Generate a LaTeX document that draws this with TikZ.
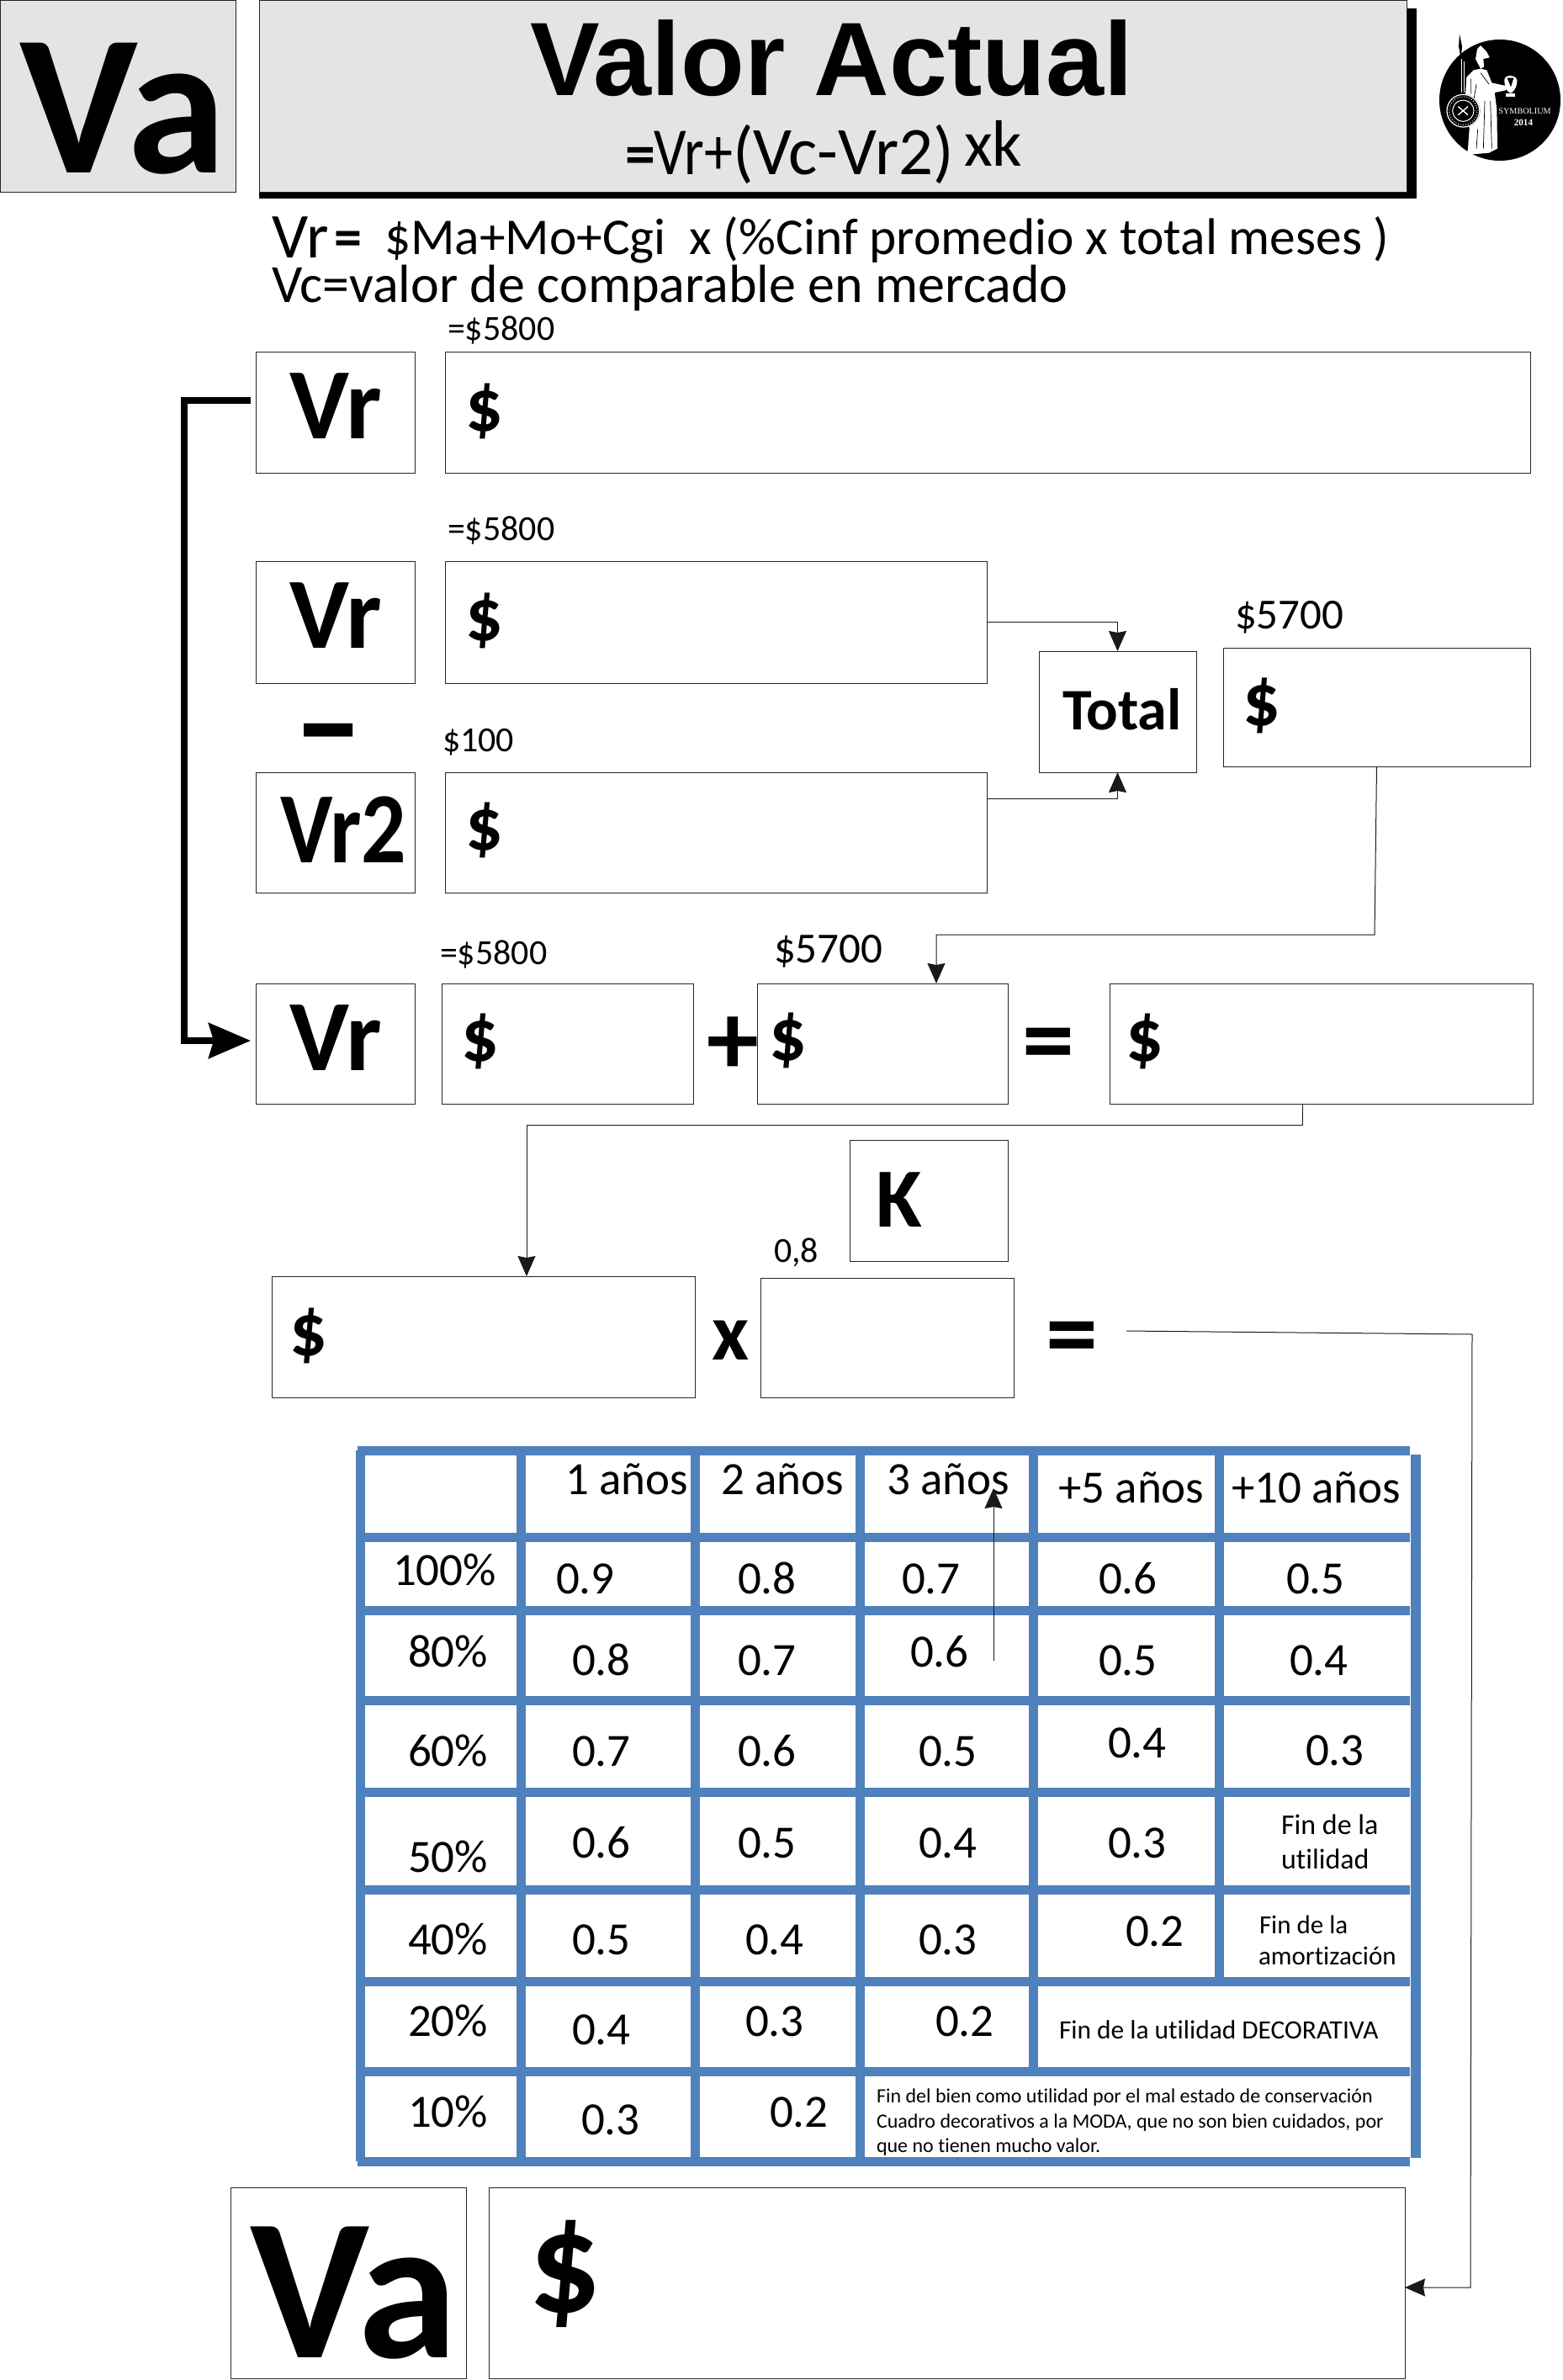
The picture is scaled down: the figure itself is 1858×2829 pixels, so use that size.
\documentclass[tikz,border=0pt]{standalone}
\usepackage{fontspec}
\setmainfont[Ligatures=NoCommon]{Carlito}
\newfontfamily\arialf{Liberation Sans}
\newfontfamily\timesf{Liberation Serif}
\usetikzlibrary{arrows.meta}
\newcounter{tc}
% text: size(pt) x baseline {text}
\newcommand\T[4]{\stepcounter{tc}\node[txt,font=\fontsize{#1}{#1}\selectfont] (t\arabic{tc}) at (#2,#3) {#4};}
\newcommand\TB[4]{\stepcounter{tc}\node[txt,font=\fontsize{#1}{#1}\selectfont\bfseries] (t\arabic{tc}) at (#2,#3) {#4};}
% box: name x1 y1 x2 y2
\newcommand\B[6][boxs]{\node[#1,minimum width=\fpeval{(#4-#2)/2}pt,minimum height=\fpeval{(#5-#3)/2}pt] (#6) at (#2,#3) {};}
\tikzset{
 txt/.style={anchor=base west,inner sep=0pt,outer sep=0pt,text=black},
 boxs/.style={draw=black!85,line width=0.45pt,fill=white,anchor=north west,inner sep=0pt,outer sep=0pt},
 grayb/.style={boxs,fill=headgray},
 tline/.style={draw=tblue,line width=5.5pt},
 conn/.style={draw=black!90,line width=0.5pt,-{Stealth[length=12pt,width=10.5pt,inset=1pt]}},
 thick conn/.style={draw=black,line width=3.6pt,-{Stealth[length=25pt,width=21pt,inset=3pt]}}
}
\definecolor{headgray}{HTML}{E4E4E4}
\definecolor{tblue}{HTML}{4F81BD}
\begin{document}
\begin{tikzpicture}[x=0.5pt,y=-0.5pt]
\useasboundingbox (0,0) rectangle (1858,2829);
\fill[white] (0,0) rectangle (1858,2829);
% header
\node[grayb,minimum width=140pt,minimum height=114pt] (vahead) at (0,0) {};
\fill[black] (308,10) rectangle (1684,236);
\node[grayb,minimum width=682pt,minimum height=114pt] (title) at (308,0) {};
\TB{119}{24}{205}{Va}
\stepcounter{tc}\node[txt,font=\arialf\fontsize{62}{62}\selectfont\bfseries] (titletext) at (630,113) {Valor Actual};
\TB{36}{743}{207}{=}
\T{40}{777}{207}{\scalebox{0.85}[1]{Vr+}}
\T{40.5}{871}{207}{(Vc-Vr2)}
\T{39}{1146}{197}{xk}
% logo
\fill[black] (1783,119) circle (36pt);
\begin{scope}[shift={(1680,20)},x=0.1667pt,y=-0.1667pt]
 \fill[black] (165,62)--(174,105)--(170,150)--(162,105)--cycle;
 \draw[white,line width=0.7pt] (172,150)--(172,270);
 \draw[white,line width=0.5pt] (180,160)--(180,270);
 \fill[white] (222,150)--(228,115)--(240,102)--(262,125)--(272,145)--(250,150)--(252,178)--(240,185)--cycle;
 \fill[white] (240,185)--(215,190)--(190,215)--(185,290)--(200,400)--(195,470)--(190,492)--(270,485)--(300,470)--(298,330)--(290,270)--(330,262)--(338,248)--(280,235)--(262,190)--cycle;
 \draw[black,line width=0.35pt] (225,240)--(215,300) (255,300)--(250,470) (275,300)--(280,470) (230,400)--(225,470) (205,220)--(205,275) (240,200)--(270,240);
 \fill[white] (325,225) .. controls (325,205) and (365,205) .. (370,225) .. controls (372,250) and (355,270) .. (348,272) .. controls (335,270) and (325,250) .. (325,225) -- cycle;
 \fill[black] (335,218) -- (358,218) -- (348,250) -- cycle;
 \fill[white] (330,272) rectangle (362,284);
 \fill[black] (178,335) circle (60*0.1667pt);
 \draw[white,line width=0.6pt] (178,335) circle (58*0.1667pt);
 \draw[white,line width=0.5pt,densely dotted] (178,335) circle (50*0.1667pt);
 \draw[white,line width=0.5pt] (178,335) circle (38*0.1667pt);
 \draw[white,line width=0.7pt] (160,350)--(195,320) (160,320)--(195,350);
 \node[anchor=west,inner sep=0pt,text=white,font=\timesf\fontsize{5.1}{5.1}\selectfont] (symb) at (303,337) {SYMBOLIUM};
 \node[anchor=west,inner sep=0pt,text=white,font=\timesf\bfseries\fontsize{5.6}{5.6}\selectfont] (year) at (358,377) {2014};
\end{scope}
% formula text
\T{38}{323}{306}{Vr}\TB{33}{397}{304}{=}
\T{30.7}{457}{302}{\$Ma+Mo+Cgi\ \ x (\%Cinf promedio x total meses )}
\T{32}{323}{359}{Vc=valor de comparable en mercado}
\T{21}{532}{404}{=\$5800}
% boxes
\B{304}{418}{493}{562}{vra}
\B{529}{418}{1819}{562}{vala}
\B{304}{667}{493}{812}{vrb}
\B{529}{667}{1173}{812}{valb}
\B{1235}{774}{1422}{918}{total}
\B{1454}{770}{1819}{911}{sum}
\B{304}{918}{493}{1061}{vrc}
\B{529}{918}{1173}{1061}{valc}
\B{304}{1169}{493}{1312}{vrd}
\B{525}{1169}{824}{1312}{vald}
\B{900}{1169}{1198}{1312}{vale}
\B{1319}{1169}{1822}{1312}{valf}
\B{1010}{1355}{1198}{1499}{kbox}
\B{323}{1517}{826}{1661}{valg}
\B{904}{1519}{1205}{1661}{valh}
\B{274}{2600}{554}{2827}{vabox}
\B{581}{2600}{1670}{2827}{vali}
% box labels
\TB{60}{344}{521}{Vr}
\TB{60}{344}{770}{Vr}
\TB{60}{333}{1025}{\scalebox{0.88}[1]{Vr2}}
\TB{60}{344}{1272}{Vr}
\TB{35}{1263}{867}{Total}
\TB{50}{1041}{1458}{K}
\TB{120}{297}{2802}{Va}
\TB{44}{553}{512}{\$}
\TB{44}{553}{761}{\$}
\TB{44}{553}{1010}{\$}
\TB{44}{1477}{862}{\$}
\TB{44}{548}{1261}{\$}
\TB{44}{914}{1260}{\$}
\TB{44}{1338}{1261}{\$}
\TB{44}{344}{1611}{\$}
\TB{85}{628}{2748}{\$}
\TB{76}{354}{911}{\scalebox{1.55}[1]{-}}
\TB{62}{840}{1277}{+}
\TB{62}{1215}{1277}{=}
\TB{48}{846}{1616}{x}
\TB{62}{1243}{1626}{=}
% value labels
\T{21}{532}{642}{=\$5800}
\T{21}{526}{893}{\$100}
\T{25.5}{1468}{747}{\$5700}
\T{21}{523}{1146}{=\$5800}
\T{25.5}{920}{1144}{\$5700}
\T{21}{920}{1500}{0,8}
% connectors
\coordinate (vraout) at (298,476);
\coordinate (vrdin) at (298,1237);
\draw[thick conn] (vraout) -- (219,476) -- (219,1237) -- (vrdin);
\coordinate (valcout) at (valc.east |- 0,949);
\draw[conn] (valb.east) -- (total.north |- valb.east) -- (total.north);
\draw[conn] (valcout) -- (total.south |- valcout) -- (total.south);
\coordinate (valetop) at (1113,1169);
\draw[conn] (sum.south) -- (1634,1111) -- (1113,1111) -- (valetop);
\coordinate (valfout) at (1548,1312);
\coordinate (valgtop) at (626,1517);
\draw[conn] (valfout) -- (1548,1337) -- (626,1337) -- (valgtop);
\coordinate (eqout) at (1339,1582);
\coordinate (valiin) at (1670,2719);
\draw[conn] (eqout) -- (1750,1586) -- (1748,2719) -- (valiin);
% table
\draw[tline] (425,1724)--(1676,1724);
\draw[tline] (425,2569.5)--(1676,2569.5);
\draw[tline] (428,1724)--(428,2569);
\draw[draw=tblue,line width=6pt] (1683,1729)--(1683,2565);
\foreach \yy in {1827,1914.5,2021.5,2130,2246.5,2355,2462}{\draw[tline] (429,\yy)--(1676,\yy);}
\draw[tline] (619,1724)--(619,2569);
\draw[tline] (826,1724)--(826,2569);
\draw[tline] (1022,1724)--(1022,2569);
\draw[tline] (1228,1724)--(1228,2462);
\draw[tline] (1449,1724)--(1449,2355);
% table text
\begin{scope}[shift={(-2,0)}]
\T{27.5}{674}{1776}{1 años}
\T{27.5}{859}{1776}{2 años}
\T{27.5}{1056}{1776}{3 años}
\T{27.5}{1260}{1786}{+5 años}
\T{27.5}{1466}{1786}{+10 años}
\T{27.5}{469}{1884}{100\%}
\T{27.5}{663}{1894}{0.9}\T{27.5}{879}{1894}{0.8}\T{27.5}{1074}{1894}{0.7}\T{27.5}{1308}{1894}{0.6}\T{27.5}{1531}{1894}{0.5}
\T{27.5}{487}{1981}{80\%}
\T{27.5}{682}{1991}{0.8}\T{27.5}{879}{1991}{0.7}\T{27.5}{1084}{1981}{0.6}\T{27.5}{1308}{1991}{0.5}\T{27.5}{1535}{1991}{0.4}
\T{27.5}{487}{2099}{60\%}
\T{27.5}{682}{2099}{0.7}\T{27.5}{879}{2099}{0.6}\T{27.5}{1094}{2099}{0.5}\T{27.5}{1319}{2089}{0.4}\T{27.5}{1554}{2098}{0.3}
\T{27.5}{487}{2225}{50\%}
\T{27.5}{682}{2208}{0.6}\T{27.5}{879}{2208}{0.5}\T{27.5}{1094}{2208}{0.4}\T{27.5}{1319}{2208}{0.3}
\T{17}{1525}{2180}{Fin de la}\T{17}{1525}{2221}{utilidad}
\T{27.5}{487}{2323}{40\%}
\T{27.5}{682}{2323}{0.5}\T{27.5}{888}{2323}{0.4}\T{27.5}{1094}{2323}{0.3}\T{27.5}{1340}{2313}{0.2}
\T{15.5}{1499}{2298}{Fin de la}\T{15.5}{1498}{2335}{amortización}
\T{27.5}{487}{2420}{20\%}
\T{27.5}{682}{2430}{0.4}\T{27.5}{888}{2420}{0.3}\T{27.5}{1114}{2420}{0.2}
\T{15.7}{1261}{2423}{Fin de la utilidad DECORATIVA}
\T{27.5}{487}{2528}{10\%}
\T{27.5}{693}{2537}{0.3}\T{27.5}{917}{2528}{0.2}
\T{12}{1044}{2499}{Fin del bien como utilidad por el mal estado de conservación}
\T{12}{1044}{2529}{Cuadro decorativos a la MODA, que no son bien cuidados, por}
\T{12}{1044}{2558}{que no tienen mucho valor.}
\end{scope}
% arrow in table
\coordinate (arrlow) at (1181,1974);
\coordinate (arrtip) at (1181,1769);
\draw[conn] (arrlow) -- (arrtip);
\end{tikzpicture}
\end{document}
